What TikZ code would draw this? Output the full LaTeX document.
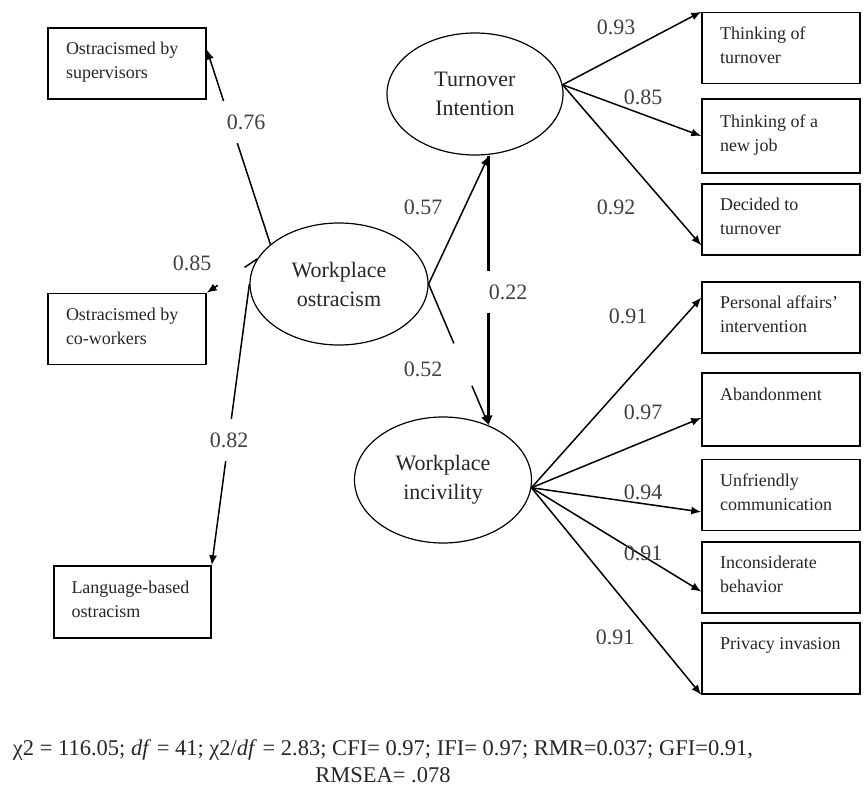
\documentclass[tikz,border=0pt]{standalone}
\usepackage{fontspec}
\setmainfont{Liberation Serif}
\usetikzlibrary{shapes.geometric,arrows.meta}

\newcommand{\ind}[1]{\parbox[c][51pt][t]{122pt}{\raggedright\strut #1}}

\tikzset{
	indic/.style={draw, line width=1.5pt, minimum width=158pt, minimum height=71pt, inner sep=0pt, text=black!85, font=\fontsize{18}{24}\selectfont},
	latent/.style={draw, ellipse, line width=1.2pt, inner sep=0pt, align=center, text=black!85, font=\fontsize{22}{29}\selectfont},
	coef/.style={text=black!75, inner sep=1pt, font=\fontsize{22}{26}\selectfont},
	gap/.style={coef, fill=white, inner xsep=5pt, inner ysep=14pt},
	link/.style={->, line width=1.5pt}
}

\begin{document}
\begin{tikzpicture}[x=1pt, y=-1pt, >={Latex[length=10pt,width=8pt]}]
	\useasboundingbox (0,0) rectangle (867,789);
	% latent variables
	\node[latent, minimum width=178pt, minimum height=122pt] (WO) at (339,284) {Workplace\\ostracism};
	\node[latent, minimum width=176pt, minimum height=122pt] (TI) at (475,94) {Turnover\\Intention};
	\node[latent, minimum width=177pt, minimum height=126pt] (WI) at (443,480) {Workplace\\incivility};
	% indicators, left
	\node[indic] (sup) at (127,63.5) {\ind{Ostracismed by\\supervisors}};
	\node[indic] (cow) at (127,329) {\ind{Ostracismed by\\co-workers}};
	\node[indic, minimum width=157pt, minimum height=72pt] (lang) at (132.5,602) {\ind{Language-based\\ostracism}};
	% indicators, right
	\node[indic] (tt) at (781,48) {\ind{Thinking of\\turnover}};
	\node[indic, minimum height=74pt] (nj) at (781,136) {\ind{Thinking of a\\new job}};
	\node[indic] (dt) at (781,219.5) {\ind{Decided to\\turnover}};
	\node[indic] (pa) at (781,317.5) {\ind{Personal affairs'\\intervention}};
	\node[indic, minimum height=73pt] (ab) at (781,409.5) {\ind{Abandonment}};
	\node[indic] (uc) at (781,495) {\ind{Unfriendly\\communication}};
	\node[indic] (ib) at (781,577.5) {\ind{Inconsiderate\\behavior}};
	\node[indic] (pi) at (781,658.5) {\ind{Privacy invasion}};

	\coordinate (tiin) at (TI.south -| WI.50);
	\path (WO.163) -- (cow.north east) coordinate[pos=.25] (c1) coordinate[pos=.78] (c2);
	\path (WO.east) -- (WI.50) coordinate[pos=.42] (g1) coordinate[pos=.72] (g2);

	% measurement paths, left
	\draw[link] (WO.150) -- (sup.10);
	\draw[line width=1.5pt] (WO.163) -- (c1);
	\draw[link] (c2) -- (cow.north east);
	\draw[link] (WO.180) -- (lang.north east);
	% structural paths
	\draw[link] (WO.east) -- (tiin);
	\draw[line width=1.5pt] (WO.east) -- (g1);
	\draw[link] (g2) -- (WI.50);
	\draw[link, line width=2.6pt] (tiin) -- (WI.50);
	% measurement paths, right
	\draw[link] (TI.6) -- (tt.north west);
	\draw[link] (TI.6) -- (nj.west);
	\draw[link] (TI.6) -- (dt.198);
	\draw[link] (WI.355) -- (pa.166);
	\draw[link] (WI.355) -- (ab.186);
	\draw[link] (WI.355) -- (uc.192);
	\draw[link] (WI.355) -- (ib.190);
	\draw[link] (WI.355) -- (pi.south west);

	% coefficients
	\node[gap] (l76) at (246,122) {0.76};
	\node[coef] (l85a) at (192,263) {0.85};
	\node[gap] (l82) at (229,440) {0.82};
	\node[coef] (l57) at (423,207) {0.57};
	\node[coef] (l52) at (423,369) {0.52};
	\node[gap] (l22) at (508,292) {0.22};
	\node[coef] (l93) at (616,27) {0.93};
	\node[coef] (l85b) at (643,97) {0.85};
	\node[coef] (l92) at (616,207) {0.92};
	\node[coef] (l91a) at (628,316) {0.91};
	\node[coef] (l97) at (643,412) {0.97};
	\node[coef] (l94) at (643,492) {0.94};
	\node[coef] (l91b) at (643,553) {0.91};
	\node[coef] (l91c) at (615,637) {0.91};

	% fit indices
	\node[align=center, text=black!85, font=\fontsize{22.5}{27}\selectfont, anchor=north] (fit) at (383,736)
	{χ2 = 116.05; \textit{df} = 41; χ2/\textit{df} = 2.83; CFI= 0.97; IFI= 0.97; RMR=0.037; GFI=0.91,\\RMSEA= .078};
\end{tikzpicture}
\end{document}
